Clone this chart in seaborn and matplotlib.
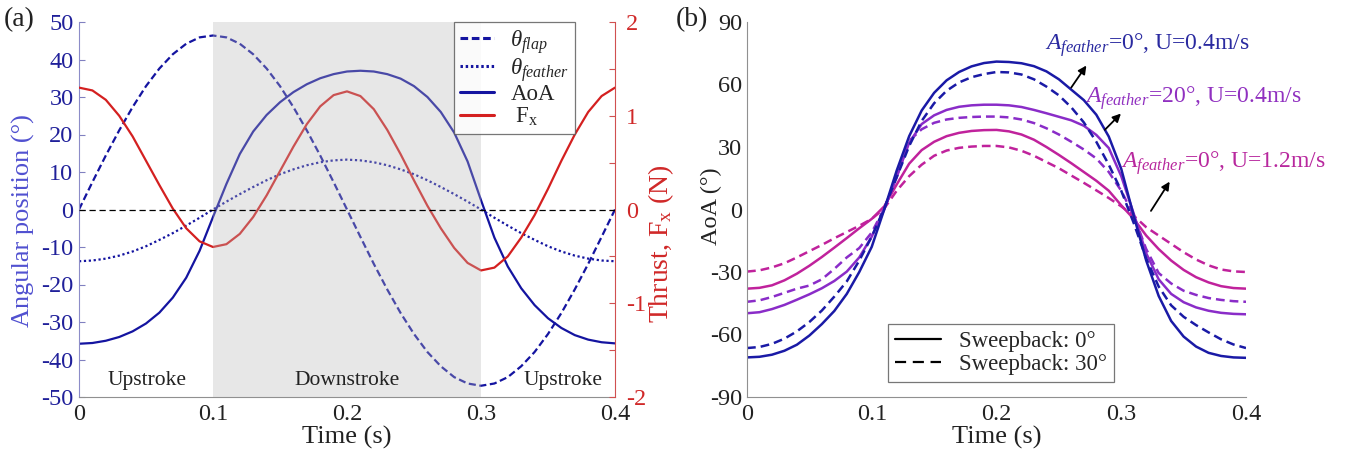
import numpy as np
import matplotlib
matplotlib.use("Agg")
import matplotlib.pyplot as plt
from matplotlib.lines import Line2D
from matplotlib.ticker import MultipleLocator
import seaborn as sns

# ---------------- data ----------------
time = [round(0.01 * i, 2) for i in range(41)]

# panel (a)
theta_flap = [0, 7.3, 14.4, 21.1, 27.3, 32.9, 37.6, 41.4, 44.2, 45.9, 46.4,
              45.9, 44.2, 41.4, 37.6, 32.9, 27.3, 21.1, 14.4, 7.3, 0,
              -7.3, -14.5, -21.3, -27.6, -33.2, -38.0, -41.8, -44.7, -46.4, -47.0,
              -46.4, -44.7, -41.8, -38.0, -33.2, -27.6, -21.3, -14.5, -7.3, 0]
theta_feather = [-13.8, -13.6, -13.1, -12.3, -11.2, -9.8, -8.1, -6.3, -4.3, -2.2, 0,
                 2.1, 4.1, 6.0, 7.8, 9.4, 10.7, 11.8, 12.6, 13.1, 13.3,
                 13.1, 12.6, 11.8, 10.7, 9.4, 7.8, 6.0, 4.1, 2.1, 0,
                 -2.2, -4.3, -6.3, -8.1, -9.8, -11.2, -12.3, -13.1, -13.6, -13.8]
aoa = [-35.8, -35.6, -35.0, -34.0, -32.5, -30.4, -27.5, -23.5, -18.2, -11.0, -2.0,
       6.8, 14.8, 20.8, 25.2, 28.6, 31.3, 33.4, 35.0, 36.1, 36.8,
       37.0, 36.8, 36.1, 34.9, 32.9, 30.0, 26.0, 20.5, 12.8, 2.5,
       -7.5, -15.2, -21.0, -25.5, -29.0, -31.6, -33.5, -34.7, -35.4, -35.7]
thrust = [1.30, 1.27, 1.17, 1.00, 0.78, 0.52, 0.26, 0.01, -0.20, -0.34, -0.40,
          -0.37, -0.26, -0.08, 0.15, 0.41, 0.67, 0.91, 1.10, 1.22, 1.26,
          1.21, 1.07, 0.85, 0.59, 0.31, 0.04, -0.20, -0.41, -0.57, -0.65,
          -0.62, -0.50, -0.30, -0.06, 0.22, 0.52, 0.80, 1.04, 1.21, 1.30]

# panel (b)
blue_sw0 = [-71.0, -70.7, -69.7, -67.8, -64.9, -60.5, -55.0, -48.7, -40.5, -30.0, -17.9,
            0.0, 18.7, 35.2, 47.5, 56.0, 62.0, 66.0, 68.7, 70.3, 71.0,
            70.8, 70.2, 68.8, 66.3, 62.5, 57.5, 52.5, 45.5, 35.0, 19.5,
            -3.0, -24.5, -41.5, -53.5, -61.0, -65.8, -68.8, -70.3, -71.0, -71.2]
blue_sw30 = [-66.5, -66.0, -64.5, -62.0, -58.5, -54.0, -48.5, -41.8, -34.5, -24.5, -13.0,
             0.5, 15.5, 30.5, 42.5, 51.0, 57.0, 61.0, 63.5, 65.0, 66.0,
             65.8, 64.8, 62.5, 59.0, 54.8, 49.0, 41.8, 32.5, 21.5, 9.0,
             -6.5, -23.5, -37.0, -46.0, -51.5, -55.5, -59.0, -62.3, -64.8, -66.5]
purple_sw0 = [-49.8, -49.3, -47.8, -45.8, -43.3, -40.7, -37.8, -34.3, -29.8, -23.0, -13.0,
              0.0, 16.0, 32.0, 41.0, 45.2, 47.8, 49.3, 50.0, 50.3, 50.3,
              50.0, 49.2, 47.8, 46.2, 44.5, 42.8, 40.2, 35.8, 29.5, 16.0,
              -2.0, -21.0, -33.5, -40.5, -44.5, -47.0, -48.6, -49.6, -50.1, -50.3]
purple_sw30 = [-44.3, -43.6, -42.0, -40.0, -38.0, -36.5, -33.5, -28.5, -23.0, -18.5, -11.0,
               0.5, 15.5, 33.0, 38.5, 41.6, 43.2, 44.0, 44.4, 44.6, 44.6,
               44.2, 43.2, 41.5, 39.0, 36.0, 32.5, 28.8, 24.5, 18.0, 9.0,
               -3.0, -19.0, -30.5, -35.5, -39.0, -41.0, -42.5, -43.4, -44.0, -44.3]
magenta_sw0 = [-38.0, -37.6, -36.4, -34.0, -30.8, -27.0, -22.8, -18.3, -13.7, -9.0, -4.5,
               1.5, 12.0, 22.0, 28.5, 32.5, 35.2, 36.8, 37.7, 38.1, 38.2,
               37.5, 36.0, 33.5, 30.0, 26.2, 22.2, 18.0, 13.8, 9.0, 2.0,
               -4.5, -12.5, -19.0, -24.5, -29.0, -32.5, -35.0, -36.8, -37.7, -38.0]
magenta_sw30 = [-29.8, -29.2, -27.8, -25.8, -23.0, -20.0, -17.0, -13.8, -10.8, -7.8, -4.5,
                0.5, 9.0, 16.0, 21.5, 25.8, 28.3, 29.6, 30.2, 30.5, 30.5,
                29.8, 28.2, 25.8, 22.8, 19.8, 16.3, 12.8, 9.2, 5.5, 1.5,
                -3.0, -8.5, -12.5, -16.5, -20.5, -24.0, -26.8, -28.8, -29.7, -30.0]

xticks = [0, 0.1, 0.2, 0.3, 0.4]
xticklabels = ["0", "0.1", "0.2", "0.3", "0.4"]
yticks_a = list(range(-50, 51, 10))
yticks_a2 = [-2, -1, 0, 1, 2]
yticks_b = list(range(-90, 91, 30))
annot_labels = [r"$A_{feather}$=0°, U=0.4m/s",
                r"$A_{feather}$=20°, U=0.4m/s",
                r"$A_{feather}$=0°, U=1.2m/s"]

# ---------------- style ----------------
sns.set_style("white")
plt.rcParams["font.family"] = ["Liberation Serif", "DejaVu Serif"]
plt.rcParams["mathtext.fontset"] = "custom"
plt.rcParams["mathtext.rm"] = "Liberation Serif"
plt.rcParams["mathtext.it"] = "Liberation Serif:italic"
plt.rcParams["mathtext.bf"] = "Liberation Serif:bold"
plt.rcParams["axes.unicode_minus"] = False
FS = 17.5

BLUE = "#1414a0"
RED = "#d42020"
C_BLUE = "#1a1aa6"
C_PURPLE = "#8a2cc8"
C_MAG = "#c0229c"

fig = plt.figure(figsize=(13.51, 4.53), dpi=100)
ax = fig.add_axes([79 / 1351, 56 / 453, 536 / 1351, 375 / 453])
axb = fig.add_axes([747 / 1351, 56 / 453, 499 / 1351, 375 / 453])

# ---------------- panel (a) ----------------
lw = 1.6
sns.lineplot(x=time, y=theta_flap, ax=ax, color=BLUE, lw=lw, linestyle=(0, (3.2, 1.6)))
sns.lineplot(x=time, y=theta_feather, ax=ax, color=BLUE, lw=lw, linestyle=(0, (1, 1.2)))
sns.lineplot(x=time, y=aoa, ax=ax, color=BLUE, lw=lw)
ax.set_xlim(0, 0.4)
ax.set_ylim(-50, 50)
ax.set_yticks(yticks_a)
ax.set_xticks(xticks)
ax.set_xticklabels(xticklabels)
ax.tick_params(axis="both", direction="in", labelsize=FS, length=4, width=0.8)
ax.tick_params(axis="x", pad=5)
ax.tick_params(axis="y", colors="#8080c0", labelcolor="#20209a", pad=4)
ax.tick_params(axis="x", colors="#808080", labelcolor="#222222")
ax.set_xlabel("Time (s)", fontsize=FS + 1.5, labelpad=1, color="#222222")
ax.set_ylabel("Angular position (°)", fontsize=FS + 1.5, color="#5050d0")
ax.yaxis.set_label_coords(-0.082, 0.47)
for s in ["top", "right"]:
    ax.spines[s].set_visible(False)
ax.spines["left"].set_color("#8c8cc8")
ax.spines["bottom"].set_color("#909090")

ax2 = ax.twinx()
sns.lineplot(x=time, y=thrust, ax=ax2, color=RED, lw=lw)
ax2.set_ylim(-2, 2)
ax2.set_yticks(yticks_a2)
ax2.yaxis.set_minor_locator(MultipleLocator(0.5))
ax2.tick_params(axis="y", which="both", direction="in", length=4, width=0.8,
                colors="#d05050", labelcolor="#d02828", labelsize=FS, pad=8)
ax2.set_ylabel(r"Thrust, F$_\mathrm{x}$ (N)", fontsize=FS + 2.5, color="#d02828")
ax2.yaxis.set_label_coords(1.058, 0.41)
for s in ["top", "left", "bottom"]:
    ax2.spines[s].set_visible(False)
ax2.spines["right"].set_color("#d05050")

# shaded downstroke (drawn over the curves, semi-transparent)
ax2.axvspan(0.1, 0.3, color="#b8b8b8", alpha=0.33, lw=0, zorder=5)
ax2.axhline(0, color="black", lw=0.9, linestyle=(0, (5, 3)), zorder=6)

tr = ax.transData
for xc, lab in [(0.051, "Upstroke"), (0.2, "Downstroke"), (0.361, "Upstroke")]:
    ax2.text(xc, -45.6, lab, transform=tr, ha="center", va="center",
             fontsize=FS - 2, color="#222222", zorder=7)

handles = [Line2D([], [], color=BLUE, lw=2.2, linestyle=(0, (2.5, 1.2))),
           Line2D([], [], color=BLUE, lw=2.2, linestyle=(0, (0.8, 0.9))),
           Line2D([], [], color=BLUE, lw=2.2),
           Line2D([], [], color=RED, lw=2.2)]
labels = [r"$\theta_{flap}$", r"$\theta_{feather}$", "AoA", r" F$_\mathrm{x}$"]
leg = ax2.legend(handles, labels, loc="upper right", bbox_to_anchor=(0.925, 1.0),
                 borderaxespad=0, fontsize=FS - 1, frameon=True, fancybox=False,
                 edgecolor="#555555", handlelength=1.5, handletextpad=0.7,
                 labelspacing=0.02, borderpad=0.25)
leg.get_frame().set_linewidth(0.9)
leg.set_zorder(10)

fig.text(4 / 1351, 1 - 20 / 453, "(a)", fontsize=FS + 2.5, ha="left", va="center", color="#222222")

# ---------------- panel (b) ----------------
lwb = 1.8
dash = (0, (3.5, 2.0))
sns.lineplot(x=time, y=magenta_sw30, ax=axb, color=C_MAG, lw=lwb, linestyle=dash)
sns.lineplot(x=time, y=magenta_sw0, ax=axb, color=C_MAG, lw=lwb)
sns.lineplot(x=time, y=purple_sw30, ax=axb, color=C_PURPLE, lw=lwb, linestyle=dash)
sns.lineplot(x=time, y=purple_sw0, ax=axb, color=C_PURPLE, lw=lwb)
sns.lineplot(x=time, y=blue_sw30, ax=axb, color=C_BLUE, lw=lwb, linestyle=dash)
sns.lineplot(x=time, y=blue_sw0, ax=axb, color=C_BLUE, lw=lwb)
axb.set_xlim(0, 0.4)
axb.set_ylim(-90, 90)
axb.set_yticks(yticks_b)
axb.set_xticks(xticks)
axb.set_xticklabels(xticklabels)
axb.tick_params(axis="both", direction="in", labelsize=FS, length=4, width=0.8,
                colors="#909090", labelcolor="#222222")
axb.tick_params(axis="x", pad=5)
axb.set_xlabel("Time (s)", fontsize=FS + 1.5, labelpad=1, color="#222222")
axb.set_ylabel("AoA (°)", fontsize=FS, color="#222222")
axb.yaxis.set_label_coords(-0.05, 0.51)
for s in ["top", "right"]:
    axb.spines[s].set_visible(False)
axb.spines["left"].set_color("#909090")
axb.spines["bottom"].set_color("#909090")

annot_colors = ["#2a2aa0", "#9030c0", "#b8289e"]
text_pos = [(0.2386, 79), (0.2706, 53.5), (0.300, 22.3)]
arrow_tail = [(0.2586, 57.4), (0.2853, 37.3), (0.3226, -1.8)]
arrow_head = [(0.2733, 70.2), (0.3013, 47.0), (0.340, 14.5)]
for lab, col, tp, at, ah in zip(annot_labels, annot_colors, text_pos, arrow_tail, arrow_head):
    axb.text(tp[0], tp[1], lab, color=col, fontsize=FS - 0.5, ha="left", va="center", clip_on=False)
    axb.annotate("", xy=ah, xytext=at,
                 arrowprops=dict(arrowstyle="-|>", color="black", lw=1.3, mutation_scale=12))

hb = [Line2D([], [], color="black", lw=1.6),
      Line2D([], [], color="black", lw=1.6, linestyle=(0, (5, 3)))]
legb = axb.legend(hb, ["Sweepback: 0°", "Sweepback: 30°"], loc="lower left",
                  bbox_to_anchor=(0.283, 0.04), borderaxespad=0, fontsize=FS - 1,
                  frameon=True, fancybox=False, edgecolor="#555555",
                  handlelength=2.0, handletextpad=0.8, labelspacing=0.1, borderpad=0.3)
legb.get_frame().set_linewidth(0.9)

fig.text(676 / 1351, 1 - 20 / 453, "(b)", fontsize=FS + 2.5, ha="left", va="center", color="#222222")

fig.savefig("out.png", dpi=100, facecolor="white")
